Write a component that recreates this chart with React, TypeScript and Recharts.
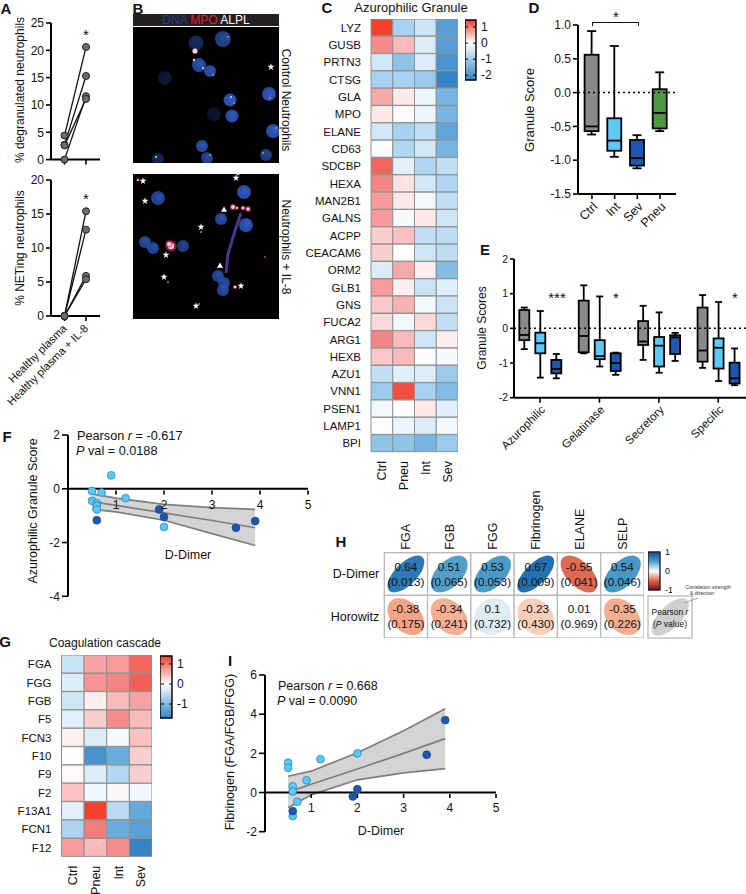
import React from "react";
import {
  Area,
  Bar,
  BarChart,
  Cell,
  ComposedChart,
  Line,
  LineChart,
  ReferenceLine,
  Scatter,
  ScatterChart,
  Symbols,
  XAxis,
  YAxis,
} from "recharts";

// Panel A
const pairLabels = ["Healthy plasma", "Healthy plasma + IL-8"];
const degranBefore = [4.4, 2.7, 0, 2.6];
const degranAfter = [20.6, 15.3, 11.6, 11.1];
const netBefore = [0, 0, 0, 0];
const netAfter = [15.4, 12.7, 5.9, 5.4];

// Panel B, image coordinates: x, y, radius, opacity
const ctrlNuclei = [
  [63, 16, 7.5, 0.5], [90, 12, 8, 0.8], [66, 38, 7, 0.9], [77, 44, 6, 0.95], [32, 51, 7, 0.3],
  [136, 67, 7, 1], [97, 73, 6.5, 1], [99, 89, 6.5, 1], [81, 87, 7, 0.25], [140, 104, 7, 1],
  [69, 119, 6, 0.95], [74, 131, 6, 0.8], [133, 128, 6, 0.75], [25, 132, 6, 0.45],
];
const ctrlSpecks = [
  [62, 24, 2.6], [61, 33, 1.2], [70, 41, 1], [80, 48, 0.8], [95, 10, 0.8], [98, 70, 1],
  [101, 76, 0.8], [143, 101, 0.8], [77, 128, 0.8], [130, 126, 0.8], [23, 130, 1], [137, 71, 0.8],
];
const ilNuclei = [
  [25, 24, 7, 0.85], [12, 68, 6, 0.85], [20, 74, 6, 0.85], [50, 72, 6, 0.75], [88, 45, 6, 0.9],
  [111, 18, 7, 1], [113, 51, 7, 1], [85, 102, 6, 0.85], [91, 109, 6, 0.85], [90, 116, 6, 0.85],
];
const ilSpecks = [
  [5, 6, 1.2], [100, 33, 2.4], [104, 34, 1.4], [110, 34, 1.8], [115, 35, 2.2], [38, 72, 4],
  [36, 70, 2.6], [68, 58, 0.8], [35, 108, 0.8], [102, 113, 1.6], [66, 130, 0.8], [132, 83, 0.7], [105, 0, 1.4],
];
const ilStars = [
  [10, 7], [12, 27], [103, 4], [68, 53], [33, 81], [31, 103], [108, 112], [63, 132],
];
const ilArrows = [[91, 36], [87, 92]];
const filament = [[108, 39], [101, 60], [95, 80], [93, 99]];
const ctrlStars = [[138, 40]];

// Panel C
const colLabelsC = ["Ctrl", "Pneu", "Int", "Sev"];
const genesC = [
  "LYZ", "GUSB", "PRTN3", "CTSG", "GLA", "MPO", "ELANE", "CD63", "SDCBP", "HEXA", "MAN2B1", "GALNS",
  "ACPP", "CEACAM6", "ORM2", "GLB1", "GNS", "FUCA2", "ARG1", "HEXB", "AZU1", "VNN1", "PSEN1", "LAMP1", "BPI",
];
const heatC = [
  [1.4, -1.0, -0.6, -1.8], [0.9, 0.6, -0.4, -1.8], [-0.5, -1.2, -0.4, -2.0], [-1.0, -1.0, -1.1, -2.3],
  [0.7, 0.2, -0.2, -1.4], [0.2, 0.03, -0.2, -1.4], [-0.5, -1.0, -0.7, -1.7], [-0.05, -0.9, -0.5, -1.4],
  [1.15, -0.3, -0.9, -0.7], [0.95, 0.25, -0.5, -0.9], [0.8, 0.2, -0.15, -0.7], [0.8, -0.1, 0.2, -0.55],
  [0.45, 0.55, -0.7, -0.75], [0.45, 0, -0.55, -0.75], [-0.4, 0.7, 0.15, -1.3], [0.8, 0.15, -0.6, -0.35],
  [0.5, 0.65, -0.15, -0.6], [0.35, -0.15, 0.35, -0.7], [0.95, 0.6, -0.55, 0.15], [0.5, 0.6, -0.03, -0.1],
  [-0.7, -0.35, -0.4, -1.1], [-1.1, 1.3, -1.0, -1.3], [-0.15, -0.03, 0.2, -0.35], [-0.05, -0.2, -0.4, -0.15],
  [-1.2, -1.2, -1.4, -1.1],
];

// Panel D: low whisker, q1, median, q3, high whisker
const groupsD = ["Ctrl", "Int", "Sev", "Pneu"];
const statsD = [
  [-0.62, -0.57, -0.5, 0.56, 0.91],
  [-0.95, -0.86, -0.71, -0.38, 0.69],
  [-1.12, -1.08, -0.97, -0.7, -0.63],
  [-0.57, -0.53, -0.3, 0.05, 0.3],
];
const fillsD = ["#8a8a8c", "#5fc9f5", "#2156ad", "#4d9a45"];

// Panel E
const groupsE = ["Azurophilic", "Gelatinase", "Secretory", "Specific"];
const ctrlE = [
  [-0.6, -0.34, -0.19, 0.53, 0.6],
  [-0.72, -0.69, -0.22, 0.8, 1.24],
  [-0.91, -0.48, -0.38, 0.21, 0.65],
  [-1.14, -0.96, -0.64, 0.6, 0.96],
];
const intE = [
  [-1.42, -0.72, -0.43, -0.125, 0.5],
  [-1.1, -0.89, -0.8, -0.34, 0.92],
  [-1.28, -1.1, -0.5, -0.25, 0.46],
  [-1.52, -1.16, -0.56, -0.29, 0.76],
];
const sevE = [
  [-1.44, -1.3, -1.17, -0.91, -0.74],
  [-1.34, -1.23, -1.0, -0.72, -0.7],
  [-0.94, -0.74, -0.26, -0.2, -0.13],
  [-1.64, -1.59, -1.44, -0.99, -0.58],
];

// Panel F
const bandXF = [0.5, 1, 2, 3, 3.9];
const bandLoF = [-0.77, -0.86, -1.17, -1.67, -2.11];
const bandMidF = [-0.48, -0.62, -0.9, -1.18, -1.45];
const bandHiF = [-0.19, -0.35, -0.58, -0.7, -0.77];
const lightF = [
  [0.9, 0.5], [0.5, -0.08], [0.7, -0.14], [1.2, -0.35], [0.5, -0.45],
  [0.6, -0.54], [0.6, -0.63], [0.6, -0.77], [2, -1.42],
];
const darkF = [[0.6, -1.17], [1.9, -0.77], [2, -1.05], [3.5, -1.45], [3.9, -1.2]];

// Panel G
const genesG = ["FGA", "FGG", "FGB", "F5", "FCN3", "F10", "F9", "F2", "F13A1", "FCN1", "F12"];
const heatG = [
  [-0.45, 0.75, 0.8, 1.15], [-0.3, 0.85, 0.95, 1.2], [-0.4, 0.15, 0.6, 0.75], [-0.25, 0.45, 0.9, 0.6],
  [0.15, -0.3, -0.08, 0.55], [-0.02, -1.5, -1.15, 0.45], [0.06, -0.3, -0.65, 0.45], [0.55, -0.12, 0.07, -0.12],
  [-0.25, 1.4, -0.6, -1.2], [-0.7, 1.0, -1.15, -1.3], [0.8, 0.6, 0.9, -1.7],
];

// Panel H
const colsH = ["FGA", "FGB", "FGG", "Fibrinogen", "ELANE", "SELP"];
const rowsH = ["D-Dimer", "Horowitz"];
const ddimerR = [0.64, 0.51, 0.53, 0.67, -0.55, 0.54];
const ddimerP = ["0.013", "0.065", "0.053", "0.009", "0.041", "0.046"];
const horowitzR = [-0.38, -0.34, 0.1, -0.23, 0.01, -0.35];
const horowitzP = ["0.175", "0.241", "0.732", "0.430", "0.969", "0.226"];

// Panel I
const bandXI = [0.5, 1, 2, 3, 3.9];
const bandLoI = [-0.78, -0.12, 0.65, 1.0, 1.22];
const bandMidI = [0.02, 0.42, 1.2, 2.0, 2.75];
const bandHiI = [0.83, 1.09, 2.03, 3.15, 4.28];
const lightI = [
  [0.5, 1.52], [0.5, 1.26], [1.2, 1.7], [2, 2.0], [0.9, 0.62],
  [0.6, 0.31], [0.6, 0.05], [0.7, -0.47], [0.6, -1.2],
];
const darkI = [[0.6, -0.95], [1.9, -0.2], [2, 0.17], [3.5, 1.93], [3.9, 3.7]];

const FONT = '"Liberation Sans", Arial, sans-serif';
const INK = "#111";

function mix(a: string, b: string, t: number) {
  const pa = [1, 3, 5].map((i) => parseInt(a.slice(i, i + 2), 16));
  const pb = [1, 3, 5].map((i) => parseInt(b.slice(i, i + 2), 16));
  return `rgb(${pa.map((v, i) => Math.round(v + (pb[i] - v) * t)).join(",")})`;
}

function ramp(f: number, stops: [number, string][]) {
  for (let i = 1; i < stops.length; i++) {
    if (f <= stops[i][0]) {
      const [f0, c0] = stops[i - 1];
      const [f1, c1] = stops[i];
      return mix(c0, c1, (f - f0) / (f1 - f0));
    }
  }
  return stops[stops.length - 1][1];
}

const blueStops: [number, string][] = [[0, "#ffffff"], [0.43, "#a8d2f0"], [0.65, "#6cb0e0"], [1, "#3583c4"]];
const redStops: [number, string][] = [[0, "#ffffff"], [0.36, "#fbc8c8"], [0.71, "#f47e7e"], [1, "#f2402c"]];
const heatColor = (v: number, min: number, max: number) =>
  v < 0 ? ramp(v / min, blueStops) : ramp(v / max, redStops);

const corrBlue: [number, string][] = [[0, "#ffffff"], [0.1, "#deecf6"], [0.52, "#4f9ec9"], [0.67, "#2471b2"], [1, "#053061"]];
const corrRed: [number, string][] = [[0, "#ffffff"], [0.23, "#fbd0b9"], [0.38, "#f4a586"], [0.55, "#dd6a53"], [1, "#67001f"]];
const corrColor = (r: number) => (r < 0 ? ramp(-r, corrRed) : ramp(r, corrBlue));

function Txt({ x, y, size = 12, rotate = 0, left = false, bold = false, color = INK, children }: any) {
  return (
    <div
      style={{
        position: "absolute",
        left: x,
        top: y,
        fontSize: size,
        lineHeight: 1.2,
        color,
        fontWeight: bold ? 700 : 400,
        whiteSpace: "nowrap",
        transform: `translate(${left ? "0" : "-50%"},-50%) rotate(${rotate}deg)`,
      }}
    >
      {children}
    </div>
  );
}

function Pos({ x, y, children }: any) {
  return <div style={{ position: "absolute", left: x, top: y }}>{children}</div>;
}

const axisLine = { stroke: "#000", strokeWidth: 2 };
const tickLine = { stroke: "#000", strokeWidth: 1.6 };

// A
function pairRows(before: number[], after: number[]) {
  return pairLabels.map((name, i) => {
    const src = i === 0 ? before : after;
    return { name, a: src[0], b: src[1], c: src[2], d: src[3] };
  });
}

const PairTick = ({ x, y, payload }: any) => (
  <text transform={`translate(${x + 3},${y + 6}) rotate(-45)`} textAnchor="end" fontSize={11.2} fill={INK}>
    {payload.value}
  </text>
);
const NoTick = () => <g />;

function PairChart({ before, after, max, ticks, height, xHeight, showLabels }: any) {
  return (
    <LineChart
      width={104}
      height={height}
      data={pairRows(before, after)}
      margin={{ top: 10, right: 4, bottom: 0, left: 0 }}
    >
      <XAxis
        dataKey="name"
        height={xHeight}
        padding={{ left: 13.5, right: 14 }}
        axisLine={axisLine}
        tickLine={tickLine}
        tickSize={5}
        interval={0}
        tick={showLabels ? PairTick : NoTick}
      />
      <YAxis
        width={51}
        domain={[0, max]}
        ticks={ticks}
        axisLine={axisLine}
        tickLine={tickLine}
        tickSize={5}
        tick={{ fontSize: 12, fill: INK }}
      />
      {["a", "b", "c", "d"].map((k) => (
        <Line
          key={k}
          dataKey={k}
          stroke="#111"
          strokeWidth={1.3}
          dot={{ r: 3.5, fill: "#6c6c6e", stroke: "#222", strokeWidth: 1 }}
          isAnimationActive={false}
        />
      ))}
    </LineChart>
  );
}

// B
const toPts = (rows: number[][]) => rows.map(([x, y, r, o]) => ({ x, y, r, o }));
const NucleusDot = (p: any) => (
  <g opacity={p.payload.o}>
    <circle cx={p.cx} cy={p.cy} r={p.payload.r} fill="#2a4ea6" />
    <circle cx={p.cx + 1} cy={p.cy - 1} r={p.payload.r * 0.5} fill="#2d58b8" />
  </g>
);
const SpeckDot = (p: any) => <circle cx={p.cx} cy={p.cy} r={p.payload.r} fill="#f6cfe4" />;
const RedSpeck = (p: any) => (
  <g>
    <circle cx={p.cx} cy={p.cy} r={p.payload.r * 1.4} fill="#d8285a" opacity={0.6} />
    <circle cx={p.cx} cy={p.cy} r={p.payload.r * 0.8} fill="#ffd4e0" />
  </g>
);
const StarDot = (p: any) => <Symbols cx={p.cx} cy={p.cy} type="star" size={15} fill="#fff" />;
const ArrowDot = (p: any) => <Symbols cx={p.cx} cy={p.cy} type="triangle" size={16} fill="#fff" />;

function Micrograph({ nuclei, specks, stars, arrows = [], thread = [], h }: any) {
  return (
    <ScatterChart
      width={146}
      height={h}
      margin={{ top: 0, right: 0, bottom: 0, left: 0 }}
      style={{ background: "#000" }}
    >
      <XAxis type="number" dataKey="x" domain={[0, 146]} hide />
      <YAxis type="number" dataKey="y" domain={[0, h]} reversed hide />
      {thread.length > 0 && (
        <Scatter
          data={toPts(thread)}
          line={{ stroke: "#4c3688", strokeWidth: 3 }}
          shape={NoTick}
          isAnimationActive={false}
        />
      )}
      <Scatter data={toPts(nuclei)} shape={NucleusDot} isAnimationActive={false} />
      <Scatter data={toPts(specks)} shape={thread.length > 0 ? RedSpeck : SpeckDot} isAnimationActive={false} />
      <Scatter data={toPts(stars)} shape={StarDot} isAnimationActive={false} />
      <Scatter data={toPts(arrows)} shape={ArrowDot} isAnimationActive={false} />
    </ScatterChart>
  );
}

// C, G
const VerticalTick = ({ x, y, payload, labels, size }: any) => (
  <text
    transform={`translate(${x + 4.5},${y + 1}) rotate(-90)`}
    textAnchor="end"
    fontSize={size}
    fill={INK}
  >
    {labels[Math.floor(payload.value)]}
  </text>
);

function Heatmap({ genes, rows, min, max, width, height, yWidth, xHeight, fontSize }: any) {
  const data = genes.map((name: string) => ({ name, c0: 1, c1: 1, c2: 1, c3: 1 }));
  return (
    <BarChart
      layout="vertical"
      width={width}
      height={height}
      data={data}
      barCategoryGap={0}
      margin={{ top: 0, right: 0, bottom: 0, left: 0 }}
    >
      <XAxis
        type="number"
        domain={[0, 4]}
        ticks={[0.5, 1.5, 2.5, 3.5]}
        height={xHeight}
        axisLine={false}
        tickLine={false}
        interval={0}
        tick={(p: any) => <VerticalTick {...p} labels={colLabelsC} size={12.5} />}
      />
      <YAxis
        type="category"
        dataKey="name"
        width={yWidth}
        axisLine={false}
        tickLine={false}
        tickSize={8}
        interval={0}
        tick={{ fontSize, fill: INK }}
      />
      {["c0", "c1", "c2", "c3"].map((k, c) => (
        <Bar key={k} dataKey={k} stackId="cells" stroke="#8f9090" strokeWidth={1} isAnimationActive={false}>
          {genes.map((g: string, r: number) => (
            <Cell key={g} fill={heatColor(rows[r][c], min, max)} />
          ))}
        </Bar>
      ))}
    </BarChart>
  );
}

function ColorBar({ id, min, max, ticks, stops, width, height, barWidth, fontSize, dashed = true, border = "#000" }: any) {
  return (
    <BarChart
      width={width}
      height={height + 12}
      data={[{ span: [min, max] }]}
      barCategoryGap={0}
      margin={{ top: 6, right: 0, bottom: 6, left: 0 }}
    >
      <defs>
        <linearGradient id={id} x1="0" y1="0" x2="0" y2="1">
          {stops.map(([o, c]: any) => (
            <stop key={o} offset={o} stopColor={c} />
          ))}
        </linearGradient>
      </defs>
      <XAxis hide />
      <YAxis
        orientation="right"
        width={width - barWidth}
        domain={[min, max]}
        ticks={ticks}
        interval={0}
        axisLine={false}
        tickLine={false}
        tickSize={3}
        tick={{ fontSize, fill: INK }}
      />
      <Bar dataKey="span" fill={`url(#${id})`} stroke={border} strokeWidth={1.4} isAnimationActive={false} />
      {dashed &&
        ticks.map((t: number) => (
          <ReferenceLine key={t} y={t} stroke="#000" strokeWidth={1} strokeDasharray="3 5 3" />
        ))}
    </BarChart>
  );
}

// D, E
const BoxGlyph = ({ x, y, width, height, fill, stats, cap }: any) => {
  const [lo, q1, med, q3, hi] = stats;
  const h = Math.abs(height);
  const top = Math.min(y, y + height);
  const ppu = h / (q3 - q1);
  const py = (v: number) => top + (q3 - v) * ppu;
  const cx = x + width / 2;
  return (
    <g stroke="#000" strokeWidth={1.8}>
      <line x1={cx} x2={cx} y1={py(hi)} y2={py(lo)} />
      <line x1={cx - cap} x2={cx + cap} y1={py(hi)} y2={py(hi)} />
      <line x1={cx - cap} x2={cx + cap} y1={py(lo)} y2={py(lo)} />
      <rect x={x} y={top} width={width} height={h} fill={fill} />
      <line x1={x} x2={x + width} y1={py(med)} y2={py(med)} />
    </g>
  );
};
const shapeD = (p: any) => <BoxGlyph {...p} stats={p.payload.stats} cap={4.5} fill={p.payload.fill} />;
const shapeCtrl = (p: any) => <BoxGlyph {...p} stats={p.payload.ctrl} cap={3.5} />;
const shapeInt = (p: any) => <BoxGlyph {...p} stats={p.payload.int} cap={3.5} />;
const shapeSev = (p: any) => <BoxGlyph {...p} stats={p.payload.sev} cap={3.5} />;

const rowsD = groupsD.map((name, i) => ({
  name,
  stats: statsD[i],
  box: [statsD[i][1], statsD[i][3]],
  fill: fillsD[i],
}));
const rowsE = groupsE.map((name, i) => ({
  name,
  ctrl: ctrlE[i],
  int: intE[i],
  sev: sevE[i],
  ctrlBox: [ctrlE[i][1], ctrlE[i][3]],
  intBox: [intE[i][1], intE[i][3]],
  sevBox: [sevE[i][1], sevE[i][3]],
}));

// F, I
const bandRows = (xs: number[], lo: number[], mid: number[], hi: number[]) =>
  xs.map((x, i) => ({ x, band: [lo[i], hi[i]], lo: lo[i], mid: mid[i], hi: hi[i] }));
const toXY = (rows: number[][]) => rows.map(([x, y]) => ({ x, y }));

const LiftedTick = ({ x, y, payload, lift }: any) => (
  <g transform={`translate(${x},${y - lift - 7})`}>
    <line x1={0} x2={0} y1={0} y2={4} stroke="#000" strokeWidth={1.6} />
    <text y={18} textAnchor="middle" fontSize={12} fill={INK}>
      {payload.value}
    </text>
  </g>
);
const ScatterDot = (p: any) => <circle cx={p.cx} cy={p.cy} r={3.9} fill={p.fill} stroke={p.stroke} strokeWidth={0.8} />;

function RegressionChart({ width, height, yWidth, domain, ticks, lift, bands, light, dark }: any) {
  return (
    <ComposedChart
      width={width + 10}
      height={height + 20}
      data={bands}
      margin={{ top: 10, right: 10, bottom: 8, left: 0 }}
    >
      <XAxis
        type="number"
        dataKey="x"
        domain={[0, 5]}
        ticks={[1, 2, 3, 4, 5]}
        height={2}
        axisLine={false}
        tickLine={false}
        interval={0}
        tick={(p: any) => <LiftedTick {...p} lift={lift} />}
      />
      <YAxis
        type="number"
        width={yWidth}
        domain={domain}
        ticks={ticks}
        axisLine={axisLine}
        tickLine={tickLine}
        tickSize={6}
        tick={{ fontSize: 12, fill: INK }}
      />
      <Area dataKey="band" stroke="none" fill="#d3d5d4" fillOpacity={1} isAnimationActive={false} />
      {["lo", "mid", "hi"].map((k) => (
        <Line key={k} dataKey={k} stroke="#7d7f7e" strokeWidth={1.7} dot={false} isAnimationActive={false} />
      ))}
      <ReferenceLine y={0} stroke="#000" strokeWidth={2} />
      <Scatter data={light} dataKey="y" fill="#5cc8f5" stroke="#2a86c8" isAnimationActive={false} shape={ScatterDot} />
      <Scatter data={dark} dataKey="y" fill="#1f57ab" stroke="#174a94" isAnimationActive={false} shape={ScatterDot} />
    </ComposedChart>
  );
}

// H
const CELL_W = 43.3;
const CELL_H = 42.7;
const CorrCell = (p: any) => {
  const { r, pv } = p.payload;
  const k2 = (1 - Math.abs(r)) / (1 + Math.abs(r));
  const a = Math.sqrt(680 / (1 + k2));
  const b = a * Math.sqrt(k2);
  return (
    <g>
      <rect x={p.cx - CELL_W / 2} y={p.cy - CELL_H / 2} width={CELL_W} height={CELL_H} fill="#fff" stroke="#b9b9b9" strokeWidth={1.3} />
      <ellipse cx={p.cx} cy={p.cy} rx={a} ry={b} fill={corrColor(r)} transform={`rotate(${r >= 0 ? -45 : 45} ${p.cx} ${p.cy})`} />
      <text x={p.cx} y={p.cy - 3.5} textAnchor="middle" fontSize={11.7} fill={INK}>{r}</text>
      <text x={p.cx} y={p.cy + 11.5} textAnchor="middle" fontSize={11.7} fill={INK}>({pv})</text>
    </g>
  );
};
const pointsH = [
  ...colsH.map((_, i) => ({ x: i + 0.5, y: 0.5, r: ddimerR[i], pv: ddimerP[i] })),
  ...colsH.map((_, i) => ({ x: i + 0.5, y: 1.5, r: horowitzR[i], pv: horowitzP[i] })),
];
const TopTick = ({ x, y, payload }: any) => (
  <text transform={`translate(${x + 4.5},${y + 5}) rotate(-90)`} fontSize={12.5} fill={INK}>
    {colsH[Math.floor(payload.value)]}
  </text>
);

function CorrChart() {
  return (
    <ScatterChart width={314} height={158} margin={{ top: 0, right: 0, bottom: 0, left: 0 }}>
      <XAxis
        type="number"
        dataKey="x"
        orientation="top"
        domain={[0, 6]}
        ticks={colsH.map((_, i) => i + 0.5)}
        height={72.7}
        axisLine={false}
        tickLine={false}
        interval={0}
        tick={TopTick}
      />
      <YAxis
        type="number"
        dataKey="y"
        domain={[0, 2]}
        reversed
        ticks={[0.5, 1.5]}
        width={54.3}
        axisLine={false}
        tickLine={false}
        tickSize={3}
        tickFormatter={(v: number) => rowsH[Math.floor(v)]}
        tick={{ fontSize: 12.5, fill: INK }}
      />
      <Scatter data={pointsH} shape={CorrCell} isAnimationActive={false} />
    </ScatterChart>
  );
}

export default function App() {
  return (
    <div style={{ position: "absolute", left: 0, top: 0, width: 746, height: 894, overflow: "hidden", background: "#fff", fontFamily: FONT }}>
      {/* A */}
      <Txt x={6} y={9} size={15} bold>A</Txt>
      <Txt x={20} y={90} rotate={-90}>% degranulated neutrophils</Txt>
      <Txt x={20} y={248} rotate={-90}>% NETing neutrophils</Txt>
      <Pos x={0} y={13}>
        <PairChart before={degranBefore} after={degranAfter} max={25} ticks={[0, 5, 10, 15, 20, 25]} height={157} xHeight={10.4} />
      </Pos>
      <Pos x={0} y={170}>
        <PairChart before={netBefore} after={netAfter} max={20} ticks={[0, 5, 10, 15, 20]} height={250} xHeight={104} showLabels />
      </Pos>
      <Txt x={86} y={35} size={15}>*</Txt>
      <Txt x={86} y={199} size={15}>*</Txt>

      {/* B */}
      <Txt x={138} y={8.5} size={15} bold>B</Txt>
      <div style={{ position: "absolute", left: 133, top: 14, width: 146, height: 12, background: "#231f20", textAlign: "center", fontSize: 12, lineHeight: "12px", color: "#fff" }}>
        <span style={{ color: "#26408f" }}>DNA</span> <span style={{ color: "#e8212e" }}>MPO</span> ALPL
      </div>
      <Pos x={133} y={27}>
        <Micrograph nuclei={ctrlNuclei} specks={ctrlSpecks} stars={ctrlStars} h={136} />
      </Pos>
      <div style={{ position: "absolute", left: 266, top: 164, width: 10, height: 1, background: "#fff" }} />
      <Pos x={133} y={174}>
        <Micrograph nuclei={ilNuclei} specks={ilSpecks} stars={ilStars} arrows={ilArrows} thread={filament} h={145} />
      </Pos>
      <Txt x={286} y={100} rotate={90}>Control Neutrophils</Txt>
      <Txt x={286} y={247} rotate={90}>Neutrophils + IL-8</Txt>

      {/* C */}
      <Txt x={327} y={8} size={15} bold>C</Txt>
      <Txt x={411} y={8} size={13}>Azurophilic Granule</Txt>
      <Pos x={300} y={19}>
        <Heatmap genes={genesC} rows={heatC} min={-2.3} max={1.4} width={158} height={473} yWidth={71} xHeight={40} fontSize={11.5} />
      </Pos>
      <Pos x={465} y={14}>
        <ColorBar id="barC" min={-2.3} max={1.44} ticks={[1, 0, -1, -2]} stops={[[0, "#f2402c"], [0.38, "#ffffff"], [1, "#3583c4"]]} width={32} height={60} barWidth={11} fontSize={12} />
      </Pos>

      {/* D */}
      <Txt x={534} y={8} size={15} bold>D</Txt>
      <Txt x={530} y={110} size={13} rotate={-90}>Granule Score</Txt>
      <div style={{ position: "absolute", left: 592, top: 22, width: 45, height: 3, borderTop: "1.5px solid #111", borderLeft: "1.5px solid #111", borderRight: "1.5px solid #111" }} />
      <Txt x={616} y={17} size={15}>*</Txt>
      <Pos x={540} y={17}>
        <BarChart width={136} height={213} data={rowsD} barSize={14} margin={{ top: 8, right: 0, bottom: 0, left: 0 }}>
          <ReferenceLine y={0} stroke="#000" strokeWidth={1.5} strokeDasharray="2 3" />
          <XAxis dataKey="name" height={36} padding={{ left: 2.6, right: 4.6 }} axisLine={axisLine} tickLine={tickLine} tickSize={5} interval={0} angle={-45} textAnchor="end" tick={{ fontSize: 12.5, fill: INK }} />
          <YAxis width={38} domain={[-1.5, 1]} ticks={[-1.5, -1, -0.5, 0, 0.5, 1]} tickFormatter={(v: number) => v.toFixed(1)} axisLine={axisLine} tickLine={tickLine} tickSize={5} tick={{ fontSize: 12, fill: INK }} />
          <Bar dataKey="box" shape={shapeD} isAnimationActive={false} />
        </BarChart>
      </Pos>

      {/* E */}
      <Txt x={485} y={250} size={15} bold>E</Txt>
      <Txt x={482} y={328} size={12} rotate={-90}>Granule Scores</Txt>
      <Txt x={557} y={298} size={15}>***</Txt>
      <Txt x={616} y={298} size={15}>*</Txt>
      <Txt x={735} y={298} size={15}>*</Txt>
      <Pos x={490} y={251}>
        <BarChart width={258} height={214} data={rowsE} barSize={10} barGap={6} margin={{ top: 8, right: 0, bottom: 0, left: 0 }}>
          <ReferenceLine y={0} stroke="#000" strokeWidth={1.5} strokeDasharray="2 3" />
          <XAxis dataKey="name" height={67.3} padding={{ left: -3.7, right: 0 }} axisLine={axisLine} tickLine={tickLine} tickSize={5} interval={0} angle={-45} textAnchor="end" tick={{ fontSize: 11.5, fill: INK }} />
          <YAxis width={24} domain={[-2, 2]} ticks={[-2, -1, 0, 1, 2]} axisLine={axisLine} tickLine={tickLine} tickSize={4} tick={{ fontSize: 10.5, fill: INK }} />
          <Bar dataKey="ctrlBox" fill="#8a8a8c" shape={shapeCtrl} isAnimationActive={false} />
          <Bar dataKey="intBox" fill="#5fc9f5" shape={shapeInt} isAnimationActive={false} />
          <Bar dataKey="sevBox" fill="#2156ad" shape={shapeSev} isAnimationActive={false} />
        </BarChart>
      </Pos>

      {/* F */}
      <Txt x={7} y={437} size={15} bold>F</Txt>
      <Txt x={33} y={511} size={12.5} rotate={-90}>Azurophilic Granule Score</Txt>
      <Pos x={30} y={424.7}>
        <RegressionChart width={278} height={161.3} yWidth={38} domain={[-4, 2]} ticks={[-4, -2, 0, 2]} lift={106.7} bands={bandRows(bandXF, bandLoF, bandMidF, bandHiF)} light={toXY(lightF)} dark={toXY(darkF)} />
      </Pos>
      <Txt x={77} y={437} size={12.7} left>Pearson <i>r</i> = -0.617</Txt>
      <Txt x={76} y={452} size={12.7} left><i>P</i> val = 0.0188</Txt>
      <Txt x={188} y={555} size={12.5}>D-Dimer</Txt>

      {/* G */}
      <Txt x={5} y={642} size={15} bold>G</Txt>
      <Txt x={105} y={643} size={12}>Coagulation cascade</Txt>
      <Pos x={0} y={655}>
        <Heatmap genes={genesG} rows={heatG} min={-1.7} max={1.4} width={152} height={239} yWidth={61.5} xHeight={37.3} fontSize={11.5} />
      </Pos>
      <Pos x={160} y={650}>
        <ColorBar id="barG" min={-1.7} max={1.4} ticks={[1, 0, -1]} stops={[[0, "#f2402c"], [0.45, "#ffffff"], [1, "#3583c4"]]} width={34} height={62} barWidth={12} fontSize={12} />
      </Pos>

      {/* H */}
      <Txt x={341} y={542} size={15} bold>H</Txt>
      <Pos x={330} y={480}>
        <CorrChart />
      </Pos>
      <Pos x={648} y={546}>
        <ColorBar id="barH" min={-1} max={1} ticks={[1, 0, -1]} stops={[[0, "#0f4c8f"], [0.25, "#4f9ec9"], [0.5, "#ffffff"], [0.75, "#dd6a53"], [1, "#7a0a20"]]} width={24} height={38} barWidth={12} fontSize={9} dashed={false} border="#222" />
      </Pos>
      <svg style={{ position: "absolute", left: 640, top: 575 }} width={106} height={70}>
        <rect x={8} y={21} width={44} height={42} fill="#fff" stroke="#b9b9b9" strokeWidth={1.3} />
        <ellipse cx={30} cy={42} rx={24} ry={11} fill="#cfcfcf" transform="rotate(-45 30 42)" />
        <line x1={44} y1={28} x2={58} y2={23} stroke="#888" strokeWidth={0.7} />
        <text x={30} y={40} textAnchor="middle" fontSize={8.5} fill={INK}>Pearson <tspan fontStyle="italic">r</tspan></text>
        <text x={30} y={52} textAnchor="middle" fontSize={8.5} fill={INK}>(<tspan fontStyle="italic">P</tspan> value)</text>
        <text x={68} y={14} textAnchor="middle" fontSize={5.2} fill="#333">Correlation strength</text>
        <text x={62} y={20} textAnchor="middle" fontSize={5.2} fill="#333">&amp; direction</text>
      </svg>

      {/* I */}
      <Txt x={230} y={661} size={15} bold>I</Txt>
      <Txt x={230} y={752} size={12.5} rotate={-90}>Fibrinogen (FGA/FGB/FGG)</Txt>
      <Pos x={230} y={665}>
        <RegressionChart width={266} height={156.7} yWidth={35} domain={[-2, 6]} ticks={[-2, 0, 2, 4, 6]} lift={38.7} bands={bandRows(bandXI, bandLoI, bandMidI, bandHiI)} light={toXY(lightI)} dark={toXY(darkI)} />
      </Pos>
      <Txt x={278} y={686} size={12.5} left>Pearson <i>r</i> = 0.668</Txt>
      <Txt x={277} y={701} size={12.5} left><i>P</i> val = 0.0090</Txt>
      <Txt x={381} y={831} size={12.5}>D-Dimer</Txt>
    </div>
  );
}
